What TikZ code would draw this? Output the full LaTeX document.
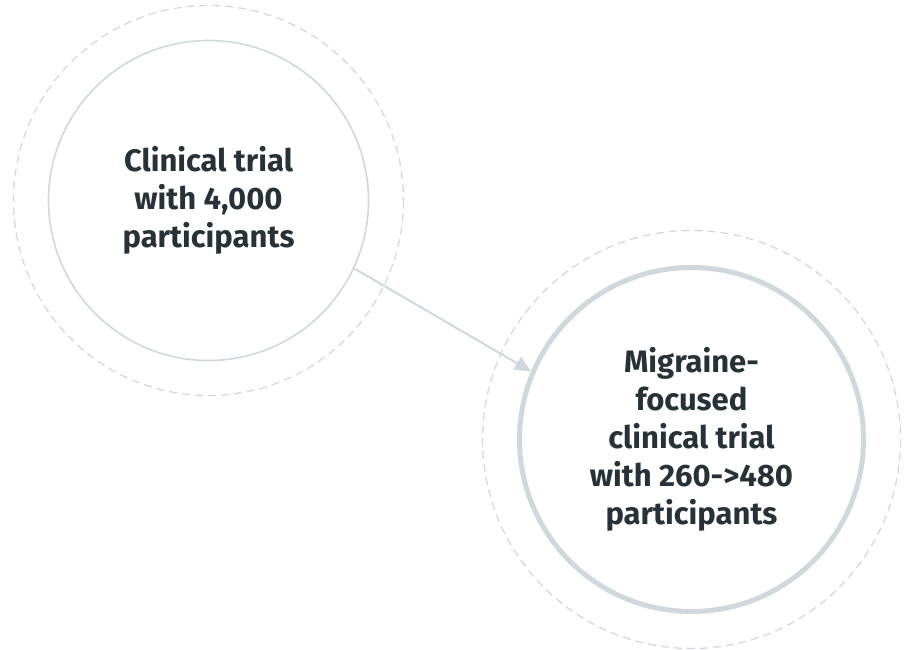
\documentclass[tikz,border=0pt]{standalone}
\usepackage{fontspec}
\setmainfont{Fira Sans}
\usetikzlibrary{arrows.meta}
\definecolor{ringgray}{HTML}{CFD8DC}
\definecolor{inkdark}{HTML}{263238}
\begin{document}
\begin{tikzpicture}[x=1pt, y=-1pt,
    stage/.style ={circle, draw=ringgray, inner sep = 0pt, align=center,
      text=inkdark, font=\fontsize{31}{38}\selectfont\bfseries},
    halo/.style ={draw=ringgray, line width=1.2pt, dash pattern=on 8pt off 5pt},
    link/.style ={draw=ringgray, line width=2pt, -{Triangle[length=16pt, width=15pt]}}]
   \useasboundingbox (0,0) rectangle (907,650);

   \node[stage, line width=1.6pt, minimum size=320pt] (small) at (208.5,200.5)
     {Clinical trial\\with 4,000\\participants};
   \node[stage, line width=5pt, minimum size=344pt] (focused) at (691.5,439.5)
     {Migraine-\\focused\\clinical trial\\with 260->480\\participants};

   \draw[halo] (small.center) circle (195);
   \draw[halo] (focused.center) circle (209);

   \draw[link] (small.-25) -- (focused.157);
 \end{tikzpicture}
\end{document}
